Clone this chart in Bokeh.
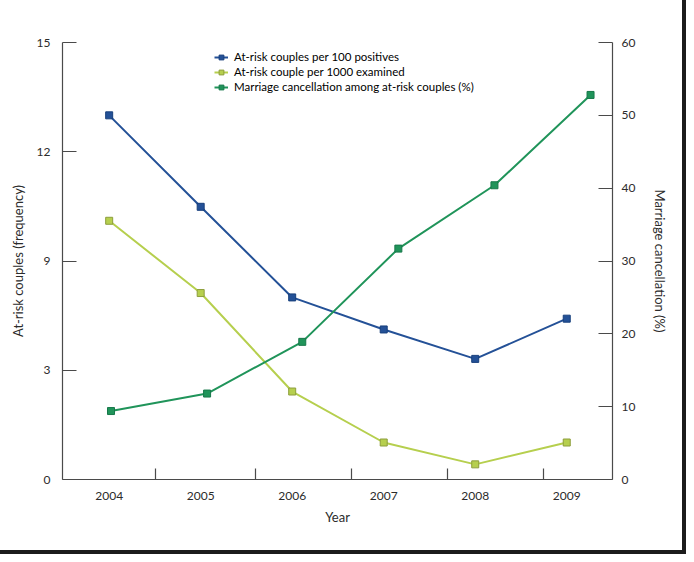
from bokeh.plotting import figure
from bokeh.models import Range1d, LinearAxis, FixedTicker, Legend, LegendItem
from bokeh.embed import file_html
from bokeh.resources import INLINE

# ---- data ----
years = [2004, 2005, 2006, 2007, 2008, 2009]
per100_positives = [12.50, 9.36, 6.25, 5.15, 4.14, 5.52]      # left axis (linear 0-15 scale)
per1000_examined = [8.88, 6.40, 3.02, 1.27, 0.52, 1.27]       # left axis
cancel_pct = [9.4, 11.8, 18.9, 31.7, 40.4, 52.8]              # right axis (%)
cancel_year_pos = [2004.02, 2005.07, 2006.11, 2007.16, 2008.21, 2009.26]  # as drawn in the source

left_tick_pos = [0, 3.75, 7.5, 11.25, 15]
left_tick_labels = ["0", "3", "9", "12", "15"]
right_ticks = [0, 10, 20, 30, 40, 50, 60]
x_minor_marks = [2004.51, 2005.60, 2006.65, 2007.70, 2008.75]

series_names = ["At-risk couples per 100 positives",
                "At-risk couple per 1000 examined",
                "Marriage cancellation among at-risk couples (%)"]

FONT = "Lato"
AXIS_COL = "#4a4a4a"
TXT = "#2b2b2b"

p = figure(width=678, height=546, output_backend="svg", toolbar_location=None,
           x_range=Range1d(2003.49, 2009.50), y_range=Range1d(0, 15),
           min_border_left=62, min_border_right=66, min_border_top=42, min_border_bottom=67)
p.styles = {"outline": "4px solid #1c1c1c", "outline-offset": "4px"}
p.extra_y_ranges = {"pct": Range1d(0, 60)}
p.outline_line_color = None
p.xgrid.visible = False
p.ygrid.visible = False
p.background_fill_color = "white"
p.border_fill_color = "white"

# x axis
xa = p.xaxis[0]
xa.ticker = FixedTicker(ticks=years, minor_ticks=x_minor_marks)
xa.major_tick_in = 0
xa.major_tick_out = 0
xa.minor_tick_in = 11
xa.minor_tick_out = 0
xa.minor_tick_line_color = AXIS_COL
xa.axis_label = "Year"
xa.major_label_standoff = 12
xa.axis_label_standoff = 6

# left axis
ya = p.yaxis[0]
ya.ticker = FixedTicker(ticks=left_tick_pos, minor_ticks=[])
ya.major_label_overrides = {t: s for t, s in zip(left_tick_pos, left_tick_labels)}
ya.axis_label = "At-risk couples (frequency)"
ya.major_label_standoff = 12
ya.axis_label_standoff = 8

# right axis
ra = LinearAxis(y_range_name="pct", axis_label="Marriage cancellation (%)")
ra.ticker = FixedTicker(ticks=right_ticks, minor_ticks=[])
ra.major_label_standoff = 9
ra.axis_label_standoff = 14
p.add_layout(ra, "right")

for ax in [xa, ya, ra]:
    ax.axis_line_color = AXIS_COL
    ax.axis_line_width = 1.2
    ax.major_tick_line_color = AXIS_COL
    ax.major_tick_line_width = 1.2
    ax.minor_tick_line_width = 1.2
    ax.major_label_text_font = FONT
    ax.major_label_text_font_size = "12px"
    ax.major_label_text_color = TXT
    ax.axis_label_text_font = FONT
    ax.axis_label_text_font_size = "13px"
    ax.axis_label_text_font_style = "normal"
    ax.axis_label_text_color = TXT
for ax in [ya, ra]:
    ax.major_tick_in = 14
    ax.major_tick_out = 0
    ax.minor_tick_in = 0
    ax.minor_tick_out = 0

BLUE, BLUE_D = "#245197", "#173f7c"
YEL, YEL_D = "#b6cf4e", "#8d9e3c"
GRN, GRN_D = "#20945a", "#17784a"

l1 = p.line(years, per100_positives, line_color=BLUE, line_width=2)
m1 = p.scatter(years, per100_positives, marker="square", size=7,
               fill_color=BLUE, line_color=BLUE_D, line_width=1)
l2 = p.line(years, per1000_examined, line_color=YEL, line_width=2)
m2 = p.scatter(years, per1000_examined, marker="square", size=7,
               fill_color=YEL, line_color=YEL_D, line_width=1)
l3 = p.line(cancel_year_pos, cancel_pct, line_color=GRN, line_width=2, y_range_name="pct")
m3 = p.scatter(cancel_year_pos, cancel_pct, marker="square", size=7,
               fill_color=GRN, line_color=GRN_D, line_width=1, y_range_name="pct")

legend = Legend(items=[LegendItem(label=series_names[0], renderers=[l1, m1]),
                       LegendItem(label=series_names[1], renderers=[l2, m2]),
                       LegendItem(label=series_names[2], renderers=[l3, m3])],
                location=(152, 386))
legend.border_line_color = None
legend.background_fill_alpha = 0
legend.padding = 0
legend.margin = 0
legend.spacing = 2
legend.glyph_width = 14
legend.glyph_height = 12
legend.label_height = 12
legend.label_standoff = 6
legend.label_text_font = FONT
legend.label_text_font_size = "11.5px"
legend.label_text_color = "#000000"
p.add_layout(legend, "center")

open("out.html", "w").write(file_html(p, INLINE))
